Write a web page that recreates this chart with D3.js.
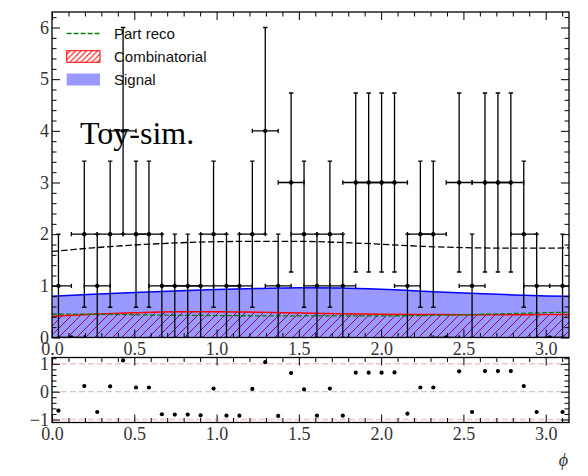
<!DOCTYPE html>
<html>
<head>
<meta charset="utf-8">
<script src="https://cdn.jsdelivr.net/npm/d3@7"></script>
<style>
  html, body { margin: 0; padding: 0; background: #fff; }
  svg { display: block; }
</style>
</head>
<body>
<svg id="chart" width="588" height="476"></svg>
<script>
// ---- data -------------------------------------------------------------
// Event counts in 40 equal bins of phi over [0, pi]
const binCounts = [1, 0, 2, 1, 2, 4, 2, 2, 1, 1,
                   1, 1, 2, 1, 1, 2, 4, 1, 3, 2,
                   1, 2, 1, 3, 3, 3, 3, 1, 2, 2,
                   0, 3, 1, 3, 3, 3, 2, 1, 0, 1];
// Pull of each bin (null where the bin is empty)
const pulls = [-0.68, null, 0.20, -0.73, 0.19, 1.12, 0.15, 0.15, -0.81, -0.82,
               -0.82, -0.85, 0.11, -0.86, -0.86, 0.10, 1.06, -0.87, 0.67, 0.08,
               -0.86, 0.11, -0.86, 0.68, 0.68, 0.68, 0.69, -0.79, 0.15, 0.15,
               null, 0.73, -0.73, 0.74, 0.74, 0.74, 0.20, -0.73, null, -0.73];
// Fit components sampled along phi
const curvePhi      = [0, 0.25, 0.5, 0.75, 1.0, 1.25, 1.5, 1.75, 2.0, 2.25, 2.5, 2.75, 3.0, Math.PI];
const signalCurve   = [0.80, 0.835, 0.87, 0.90, 0.93, 0.95, 0.965, 0.96, 0.935, 0.895, 0.86, 0.83, 0.805, 0.80];
const combCurve     = [0.41, 0.45, 0.48, 0.50, 0.50, 0.49, 0.475, 0.46, 0.45, 0.445, 0.44, 0.44, 0.445, 0.445];
const partRecoCurve = [0.455, 0.45, 0.44, 0.43, 0.425, 0.42, 0.42, 0.42, 0.42, 0.425, 0.44, 0.46, 0.48, 0.49];

const xTicks = [0, 0.5, 1.0, 1.5, 2.0, 2.5, 3.0];
const yTicksMain = [0, 1, 2, 3, 4, 5, 6];
const yTicksPull = [-1, 0, 1];
const legendLabels = ["Part reco", "Combinatorial", "Signal"];
const watermark = "Toy-sim.";
const xTitle = "\u03D5";

// ---- layout -----------------------------------------------------------
const W = 588, H = 476;
const box = { left: 52, right: 569, top: 12, bottom: 337.5 };
const pbox = { top: 357.5, bottom: 422.5 };
const serif = "'Liberation Serif', 'DejaVu Serif', serif";
const sans = "'Liberation Sans', Arial, sans-serif";

const svg = d3.select("#chart");
svg.append("rect").attr("width", W).attr("height", H).attr("fill", "#fff");

const x = d3.scaleLinear().domain([0, Math.PI]).range([box.left, box.right]);
const y = d3.scaleLinear().domain([0, 6.3]).range([box.bottom, box.top]);
const yp = d3.scaleLinear().domain([-1.106, 1.226]).range([pbox.bottom, pbox.top]);

const defs = svg.append("defs");
defs.append("clipPath").attr("id", "clipMain").append("rect")
  .attr("x", box.left).attr("y", box.top)
  .attr("width", box.right - box.left).attr("height", box.bottom - box.top);
defs.append("clipPath").attr("id", "clipPull").append("rect")
  .attr("x", box.left).attr("y", pbox.top)
  .attr("width", box.right - box.left).attr("height", pbox.bottom - pbox.top);

function hatch(id, s) {
  const p = defs.append("pattern").attr("id", id)
    .attr("patternUnits", "userSpaceOnUse").attr("width", s).attr("height", s);
  p.append("path")
    .attr("d", `M${-1},1 l2,-2 M0,${s} l${s},${-s} M${s - 1},${s + 1} l2,-2`)
    .attr("stroke", "#ff0000").attr("stroke-width", 1).attr("fill", "none");
}
hatch("hatchMain", 9);
hatch("hatchLegend", 5.5);

// ---- model ------------------------------------------------------------
const model = curvePhi.map((p, i) => ({
  p,
  sig: signalCurve[i],
  comb: combCurve[i],
  part: partRecoCurve[i],
  tot: signalCurve[i] + combCurve[i] + partRecoCurve[i]
}));
const area = k => d3.area().x(d => x(d.p)).y0(y(0)).y1(d => y(d[k])).curve(d3.curveMonotoneX);
const line = k => d3.line().x(d => x(d.p)).y(d => y(d[k])).curve(d3.curveMonotoneX);

const plot = svg.append("g").attr("clip-path", "url(#clipMain)");
plot.append("path").datum(model).attr("d", area("comb")).attr("fill", "url(#hatchMain)");
plot.append("path").datum(model).attr("d", area("sig")).attr("fill", "#0000ff").attr("fill-opacity", 0.4);
plot.append("path").datum(model).attr("d", line("sig"))
  .attr("fill", "none").attr("stroke", "#0000ff").attr("stroke-width", 1.5);
plot.append("path").datum(model).attr("d", line("comb"))
  .attr("fill", "none").attr("stroke", "#ff0000").attr("stroke-width", 1.5);
plot.append("path").datum(model).attr("d", line("part"))
  .attr("fill", "none").attr("stroke", "#008000").attr("stroke-width", 1.3)
  .attr("stroke-dasharray", "4.8,2.2");
plot.append("path").datum(model).attr("d", line("tot"))
  .attr("fill", "none").attr("stroke", "#000").attr("stroke-width", 1.3)
  .attr("stroke-dasharray", "6.5,2.7");

// ---- data points with Poisson errors ----------------------------------
const binW = Math.PI / binCounts.length;
const bins = binCounts.map((n, i) => ({ c: (i + 0.5) * binW, n, e: Math.sqrt(n), pull: pulls[i] }));
const cap = 2.2;
const eb = plot.append("g").attr("stroke", "#000").attr("stroke-width", 1.3);
bins.forEach(b => {
  const cx = x(b.c), cy = y(b.n);
  const x0 = x(b.c - binW), x1 = x(b.c + binW);
  const y0 = y(b.n - b.e), y1 = y(b.n + b.e);
  eb.append("line").attr("x1", cx).attr("x2", cx).attr("y1", y0).attr("y2", y1);
  eb.append("line").attr("x1", cx - cap).attr("x2", cx + cap).attr("y1", y0).attr("y2", y0);
  eb.append("line").attr("x1", cx - cap).attr("x2", cx + cap).attr("y1", y1).attr("y2", y1);
  eb.append("line").attr("x1", x0).attr("x2", x1).attr("y1", cy).attr("y2", cy);
  eb.append("line").attr("x1", x0).attr("x2", x0).attr("y1", cy - cap).attr("y2", cy + cap);
  eb.append("line").attr("x1", x1).attr("x2", x1).attr("y1", cy - cap).attr("y2", cy + cap);
});
plot.append("g").selectAll("circle").data(bins).join("circle")
  .attr("cx", d => x(d.c)).attr("cy", d => y(d.n)).attr("r", 2.2).attr("fill", "#000");

// ---- pull panel -------------------------------------------------------
const pp = svg.append("g").attr("clip-path", "url(#clipPull)");
[[1, "#f6c4c4"], [-1, "#f6c4c4"], [0, "#cccccc"]].forEach(([v, c]) => {
  pp.append("line").attr("x1", box.left).attr("x2", box.right)
    .attr("y1", yp(v)).attr("y2", yp(v))
    .attr("stroke", c).attr("stroke-width", 1.4).attr("stroke-dasharray", "6,3");
});
pp.selectAll("circle").data(bins.filter(b => b.pull !== null)).join("circle")
  .attr("cx", d => x(d.c)).attr("cy", d => yp(d.pull)).attr("r", 2.1).attr("fill", "#000");

// ---- axes -------------------------------------------------------------
const minorX = d3.range(0, 3.15, 0.1).filter(v => Math.abs(v * 2 - Math.round(v * 2)) > 1e-6);
const minorY = d3.range(0, 6.3, 0.2).filter(v => Math.abs(v - Math.round(v)) > 1e-6);
const minorP = d3.range(-1, 1.21, 0.2).filter(v => Math.abs(v - Math.round(v)) > 1e-6);

function ax(gen, tx, ty, values, size, fmt, pad) {
  const g = svg.append("g").attr("transform", `translate(${tx},${ty})`)
    .call(gen.tickValues(values).tickSize(size).tickSizeOuter(0)
      .tickPadding(pad || 3).tickFormat(fmt || (() => "")));
  g.select(".domain").remove();
  g.selectAll("line").attr("stroke", "#000").attr("stroke-width", 1);
  g.selectAll("text").attr("font-family", serif).attr("font-size", 18).attr("fill", "#333");
  return g;
}
const f1 = d3.format(".1f"), fd = d3.format("d");
const MAJ = -8, MIN = -4.5;

// main panel
ax(d3.axisBottom(x), 0, box.bottom, xTicks, MAJ, f1, 5);
ax(d3.axisBottom(x), 0, box.bottom, minorX, MIN);
ax(d3.axisTop(x), 0, box.top, xTicks, MAJ);
ax(d3.axisTop(x), 0, box.top, minorX, MIN);
ax(d3.axisLeft(y), box.left, 0, yTicksMain, MAJ, fd, 3);
ax(d3.axisLeft(y), box.left, 0, minorY, MIN);
ax(d3.axisRight(y), box.right, 0, yTicksMain, MAJ);
ax(d3.axisRight(y), box.right, 0, minorY, MIN);

// pull panel
ax(d3.axisBottom(x), 0, pbox.bottom, xTicks, MAJ, f1, 5);
ax(d3.axisBottom(x), 0, pbox.bottom, minorX, MIN);
ax(d3.axisTop(x), 0, pbox.top, xTicks, MAJ);
ax(d3.axisTop(x), 0, pbox.top, minorX, MIN);
ax(d3.axisLeft(yp), box.left, 0, yTicksPull, MAJ, fd, 3);
ax(d3.axisLeft(yp), box.left, 0, minorP, MIN);
ax(d3.axisRight(yp), box.right, 0, yTicksPull, MAJ);
ax(d3.axisRight(yp), box.right, 0, minorP, MIN);

// frames
svg.append("rect").attr("x", box.left).attr("y", box.top)
  .attr("width", box.right - box.left).attr("height", box.bottom - box.top)
  .attr("fill", "none").attr("stroke", "#000").attr("stroke-width", 1.3);
svg.append("rect").attr("x", box.left).attr("y", pbox.top)
  .attr("width", box.right - box.left).attr("height", pbox.bottom - pbox.top)
  .attr("fill", "none").attr("stroke", "#000").attr("stroke-width", 1.3);

// axis title
svg.append("text").attr("x", box.right - 1).attr("y", 466)
  .attr("text-anchor", "end").attr("font-family", serif).attr("font-style", "italic")
  .attr("font-size", 18).attr("fill", "#333").text(xTitle);

// ---- legend -----------------------------------------------------------
const lg = svg.append("g");
const hx = 66.7, hw = 33.3, tx = 114;
const rowsY = [33.5, 56.5, 79.5];
lg.append("line").attr("x1", hx).attr("x2", hx + hw).attr("y1", rowsY[0]).attr("y2", rowsY[0])
  .attr("stroke", "#008000").attr("stroke-width", 1.3).attr("stroke-dasharray", "4.8,2.2");
lg.append("rect").attr("x", hx).attr("y", rowsY[1] - 5.8).attr("width", hw).attr("height", 11.6)
  .attr("fill", "url(#hatchLegend)").attr("stroke", "#ff0000").attr("stroke-width", 1);
lg.append("rect").attr("x", hx).attr("y", rowsY[2] - 6).attr("width", hw).attr("height", 12)
  .attr("fill", "#9999ff");
legendLabels.forEach((t, i) => {
  lg.append("text").attr("x", tx).attr("y", rowsY[i] + 5.2)
    .attr("font-family", sans).attr("font-size", 15).attr("fill", "#111").text(t);
});

svg.append("text").attr("x", 80).attr("y", 144)
  .attr("font-family", serif).attr("font-size", 32).attr("fill", "#000").text(watermark);
</script>
</body>
</html>
